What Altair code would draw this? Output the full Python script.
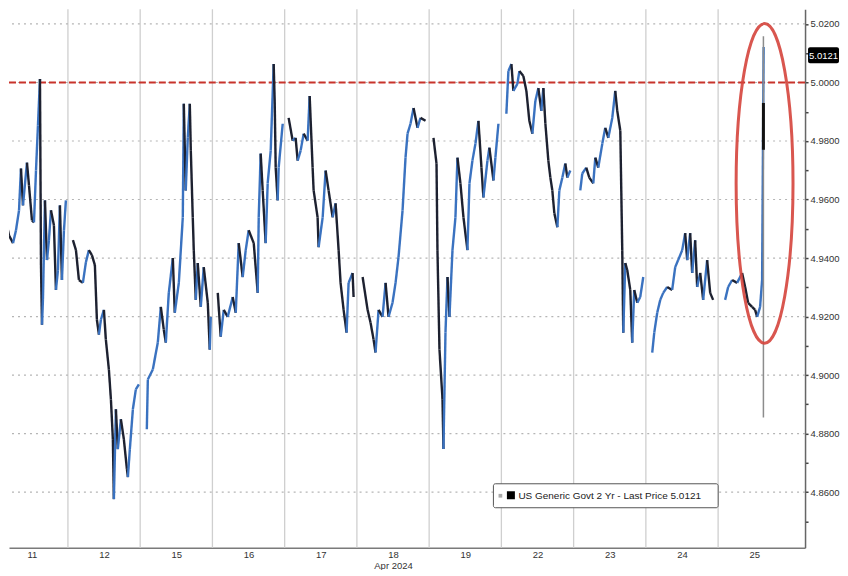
import altair as alt
import pandas as pd

# ---------------- data ----------------
days = ["11", "12", "15", "16", "17", "18", "19", "22", "23", "24", "25"]
month_label = "Apr 2024"
month_day_index = 5

# fraction of each trading session and 2Y yield (%)
d11_t = [0.074, 0.115, 0.143, 0.184, 0.240, 0.281, 0.323, 0.350, 0.378, 0.433, 0.461, 0.502, 0.530, 0.558, 0.585,
         0.613, 0.627, 0.641, 0.654, 0.682, 0.710, 0.737, 0.765, 0.806, 0.834, 0.862, 0.889, 0.917, 0.945, 0.972]
d11_y = [4.9597, 4.9699, 4.9529, 4.9478, 4.9451, 4.9495, 4.9563, 4.9706, 4.9580, 4.9726, 4.9648, 4.9529, 4.9522,
         4.9699, 4.9852, 5.0012, 4.9376, 4.9172, 4.9257, 4.9597, 4.9393, 4.9461, 4.9563, 4.9512, 4.9291, 4.9359,
         4.9580, 4.9325, 4.9495, 4.9597]

d12_t = [0.069, 0.111, 0.152, 0.207, 0.249, 0.290, 0.332, 0.373, 0.401, 0.429, 0.456, 0.498, 0.525, 0.567, 0.595,
         0.622, 0.636, 0.664, 0.691, 0.733, 0.774, 0.816, 0.830, 0.857, 0.899, 0.940, 0.982]
d12_y = [4.9461, 4.9427, 4.9325, 4.9315, 4.9386, 4.9427, 4.9410, 4.9376, 4.9189, 4.9138, 4.9189, 4.9223, 4.9121,
         4.9019, 4.8917, 4.8781, 4.8576, 4.8883, 4.8747, 4.8849, 4.8781, 4.8679, 4.8651, 4.8747, 4.8883, 4.8951,
         4.8968]

d15_t = [0.092, 0.106, 0.175, 0.244, 0.286, 0.327, 0.355, 0.396, 0.452, 0.479, 0.535, 0.590, 0.604, 0.631, 0.659,
         0.687, 0.701, 0.728, 0.742, 0.770, 0.797, 0.839, 0.880, 0.936, 0.963, 0.977]
d15_y = [4.8815, 4.8985, 4.9019, 4.9111, 4.9233, 4.9155, 4.9111, 4.9281, 4.9400, 4.9213, 4.9315, 4.9539, 4.9927,
         4.9631, 4.9811, 4.9927, 4.9767, 4.9539, 4.9427, 4.9257, 4.9383, 4.9233, 4.9369, 4.9247, 4.9087, 4.9199]

d16_t = [0.074, 0.115, 0.157, 0.212, 0.281, 0.323, 0.364, 0.419, 0.461, 0.502, 0.572, 0.627, 0.641, 0.668, 0.696,
         0.737, 0.765, 0.807, 0.848, 0.862, 0.876, 0.903, 0.917, 0.973]
d16_y = [4.9281, 4.9131, 4.9223, 4.9199, 4.9267, 4.9213, 4.9451, 4.9335, 4.9427, 4.9495, 4.9451, 4.9281, 4.9539,
         4.9757, 4.9631, 4.9451, 4.9655, 4.9767, 5.0063, 4.9937, 4.9709, 4.9597, 4.9709, 4.9859]

d17_t = [0.055, 0.111, 0.152, 0.180, 0.221, 0.263, 0.318, 0.346, 0.387, 0.401, 0.456, 0.470, 0.526, 0.567, 0.608,
         0.664, 0.705, 0.747, 0.774, 0.816, 0.857, 0.885, 0.940, 0.954]
d17_y = [4.9879, 4.9801, 4.9811, 4.9733, 4.9767, 4.9825, 4.9801, 4.9954, 4.9709, 4.9631, 4.9539, 4.9437, 4.9539,
         4.9699, 4.9631, 4.9539, 4.9587, 4.9427, 4.9315, 4.9223, 4.9145, 4.9315, 4.9349, 4.9267]

d18_t = [0.079, 0.148, 0.189, 0.231, 0.258, 0.300, 0.355, 0.397, 0.438, 0.493, 0.535, 0.576, 0.632, 0.673, 0.701,
         0.742, 0.784, 0.839, 0.880, 0.950]
d18_y = [4.9335, 4.9223, 4.9179, 4.9121, 4.9077, 4.9223, 4.9199, 4.9315, 4.9199, 4.9247, 4.9315, 4.9403, 4.9563,
         4.9743, 4.9825, 4.9859, 4.9913, 4.9845, 4.9879, 4.9869]

d19_t = [0.060, 0.102, 0.115, 0.143, 0.185, 0.198, 0.226, 0.254, 0.281, 0.323, 0.364, 0.392, 0.433, 0.475, 0.530,
         0.558, 0.599, 0.641, 0.682, 0.724, 0.751, 0.807, 0.834, 0.890, 0.917, 0.959]
d19_y = [4.9811, 4.9723, 4.9427, 4.9087, 4.8917, 4.8747, 4.9145, 4.9335, 4.9199, 4.9427, 4.9539, 4.9743, 4.9655,
         4.9539, 4.9427, 4.9655, 4.9733, 4.9791, 4.9869, 4.9709, 4.9607, 4.9733, 4.9777, 4.9665, 4.9743, 4.9859]

d22_t = [0.069, 0.097, 0.139, 0.166, 0.221, 0.249, 0.304, 0.346, 0.387, 0.429, 0.470, 0.512, 0.553, 0.581, 0.609,
         0.650, 0.678, 0.705, 0.733, 0.775, 0.802, 0.844, 0.885, 0.913, 0.954]
d22_y = [4.9893, 5.0039, 5.0063, 4.9971, 4.9995, 5.0039, 5.0022, 4.9971, 4.9869, 4.9825, 4.9937, 4.9981, 4.9903,
         4.9981, 4.9859, 4.9733, 4.9675, 4.9631, 4.9553, 4.9505, 4.9631, 4.9675, 4.9723, 4.9675, 4.9699]

d23_t = [0.092, 0.120, 0.175, 0.217, 0.272, 0.300, 0.341, 0.397, 0.438, 0.480, 0.535, 0.576, 0.604, 0.646, 0.673,
         0.687, 0.715, 0.742, 0.784, 0.811, 0.839, 0.881, 0.922, 0.964]
d23_y = [4.9631, 4.9689, 4.9709, 4.9675, 4.9655, 4.9743, 4.9709, 4.9791, 4.9845, 4.9811, 4.9879, 4.9971, 4.9903,
         4.9835, 4.9427, 4.9145, 4.9383, 4.9359, 4.9291, 4.9111, 4.9291, 4.9247, 4.9267, 4.9335]

d24_t = [0.088, 0.116, 0.157, 0.199, 0.240, 0.295, 0.364, 0.406, 0.447, 0.503, 0.544, 0.572, 0.613, 0.641, 0.682,
         0.710, 0.752, 0.793, 0.848, 0.890, 0.931]
d24_y = [4.9077, 4.9145, 4.9213, 4.9257, 4.9281, 4.9301, 4.9291, 4.9369, 4.9393, 4.9427, 4.9485, 4.9393, 4.9485,
         4.9349, 4.9461, 4.9301, 4.9349, 4.9257, 4.9393, 4.9281, 4.9257]

d25_t = [0.097, 0.139, 0.194, 0.263, 0.332, 0.374, 0.415, 0.470, 0.512, 0.540, 0.581, 0.609, 0.630]
d25_y = [4.9257, 4.9301, 4.9325, 4.9315, 4.9349, 4.9301, 4.9247, 4.9233, 4.9223, 4.9199, 4.9233, 4.9325, 5.0121]

# last (very wide) bar of Apr 25
spike_frac = 0.627
spike_low, spike_high = 4.8855, 5.0158
spike_body_low, spike_body_high = 4.9770, 4.9930

ref_level = 5.0000
ellipse_center_t, ellipse_center_y = 10.643, 4.9655

session_t = [d11_t, d12_t, d15_t, d16_t, d17_t, d18_t, d19_t, d22_t, d23_t, d24_t, d25_t]
session_y = [d11_y, d12_y, d15_y, d16_y, d17_y, d18_y, d19_y, d22_y, d23_y, d24_y, d25_y]
last_price = d25_y[-1]

# ---------------- build tables ----------------
rows = []
for k, (ts, ys) in enumerate(zip(session_t, session_y)):
    pts = [(k + t, y) for t, y in zip(ts, ys)]
    for (t0, y0), (t1, y1) in zip(pts[:-1], pts[1:]):
        rows.append({"t": t0, "t2": t1, "y": y0, "y2": y1, "dir": "up" if y1 >= y0 else "down"})
seg = pd.DataFrame(rows)

spike = pd.DataFrame([{"t": len(days) - 1 + spike_frac, "lo": spike_low, "hi": spike_high,
                       "blo": spike_body_low, "bhi": spike_body_high}])
bounds = pd.DataFrame({"t": list(range(1, len(days)))})
hgrid = pd.DataFrame({"v": [round(4.86 + 0.02 * i, 2) for i in range(9)]})
ref = pd.DataFrame({"v": [ref_level]})
ell = pd.DataFrame([{"t": ellipse_center_t, "v": ellipse_center_y}])
one = pd.DataFrame([{"a": 1}])

# ---------------- scales / axes ----------------
FONT = "Liberation Sans"
W, H = 797, 539
xs = alt.Scale(domain=[0.1843, 11.2032], nice=False, zero=False)
ysc = alt.Scale(domain=[4.8410, 5.0250], nice=False, zero=False)

parts = []
for i, d in enumerate(days):
    if i == month_day_index:
        parts.append("['%s','%s']" % (d, month_label))
    else:
        parts.append("'%s'" % d)
x_label_expr = "[" + ",".join(parts) + "][floor(datum.value)]"

x_axis = alt.Axis(values=[i + 0.5 for i in range(len(days))], labelExpr=x_label_expr, grid=False,
                  ticks=False, tickSize=0, domain=True, domainColor="#7a7a7a", domainWidth=1.5,
                  labelFont=FONT, labelFontSize=9.5, labelColor="#333333", labelPadding=2,
                  labelLineHeight=10.5, title=None, orient="bottom", labelFlush=False, labelOverlap=False)

ytick_vals = [round(4.85 + 0.01 * i, 2) for i in range(18)]
y_axis = alt.Axis(orient="right", values=ytick_vals,
                  labelExpr="round(datum.value*100) % 2 == 0 ? format(datum.value, '.4f') : ''",
                  grid=False, tickSize=3, tickWidth=1.5, tickColor="#444444", domainColor="#666666",
                  domainWidth=1.5, labelFont=FONT, labelFontSize=9.5, labelColor="#333333",
                  labelPadding=2, title=None, labelFlush=False, labelOverlap=False)

X = lambda f: alt.X(f, scale=xs, axis=x_axis)
Y = lambda f: alt.Y(f, scale=ysc, axis=y_axis)

vgrid = alt.Chart(bounds).mark_rule(color="#cfcfcf", strokeWidth=1.3).encode(x=X("t:Q"))
hg = alt.Chart(hgrid).mark_rule(color="#b5b5b5", strokeWidth=1.2, strokeDash=[2, 4]).encode(y=Y("v:Q"))
redline = alt.Chart(ref).mark_rule(color="#c8332b", strokeWidth=2, strokeDash=[7, 3]).encode(y=Y("v:Q"))

series = alt.Chart(seg).mark_rule(strokeWidth=2.4, clip=True).encode(
    x=X("t:Q"), x2="t2:Q", y=Y("y:Q"), y2="y2:Q",
    color=alt.Color("dir:N", scale=alt.Scale(domain=["up", "down"], range=["#3a72c0", "#1d2130"]), legend=None),
)

spike_range = alt.Chart(spike).mark_rule(color="#8c8c8c", strokeWidth=1.5).encode(x=X("t:Q"), y=Y("lo:Q"), y2="hi:Q")
spike_body = alt.Chart(spike).mark_rule(color="#111111", strokeWidth=3).encode(x=X("t:Q"), y=Y("blo:Q"), y2="bhi:Q")

ell_path = "M -0.178 0 A 0.178 1 0 1 0 0.178 0 A 0.178 1 0 1 0 -0.178 0 Z"
ellipse = alt.Chart(ell).mark_point(shape=ell_path, size=102400, filled=False, color="#d5443c",
                                    strokeWidth=3, opacity=0.9).encode(x=X("t:Q"), y=Y("v:Q"))

legend_box = alt.Chart(one).mark_rect(fill="white", stroke="#555555", strokeWidth=1, cornerRadius=2).encode(
    x=alt.value(485), x2=alt.value(710), y=alt.value(475), y2=alt.value(499))
legend_sq1 = alt.Chart(one).mark_square(size=14, color="#aaaaaa", opacity=1).encode(x=alt.value(492), y=alt.value(487))
legend_sq2 = alt.Chart(one).mark_square(size=64, color="#000000", opacity=1).encode(x=alt.value(502.5), y=alt.value(486.5))
legend_txt = alt.Chart(one).mark_text(align="left", baseline="middle", font=FONT, fontSize=10, color="#222222").encode(
    x=alt.value(510), y=alt.value(487), text=alt.value("US Generic Govt 2 Yr - Last Price %.4f" % last_price))

tag_box = alt.Chart(one).mark_rect(fill="#000000", cornerRadius=2).encode(
    x=alt.value(800), x2=alt.value(831), y=alt.value(38), y2=alt.value(54))
tag_txt = alt.Chart(one).mark_text(align="center", baseline="middle", font=FONT, fontSize=9.5, color="white").encode(
    x=alt.value(815.5), y=alt.value(46.5), text=alt.value("%.4f" % last_price))

chart = alt.layer(
    vgrid, hg, redline, series, spike_range, spike_body, ellipse,
    legend_box, legend_sq1, legend_sq2, legend_txt, tag_box, tag_txt,
).properties(width=W, height=H, padding=0, background="white").configure_view(stroke=None)

chart.save("out.html", embed_options={"renderer": "svg", "actions": False})
